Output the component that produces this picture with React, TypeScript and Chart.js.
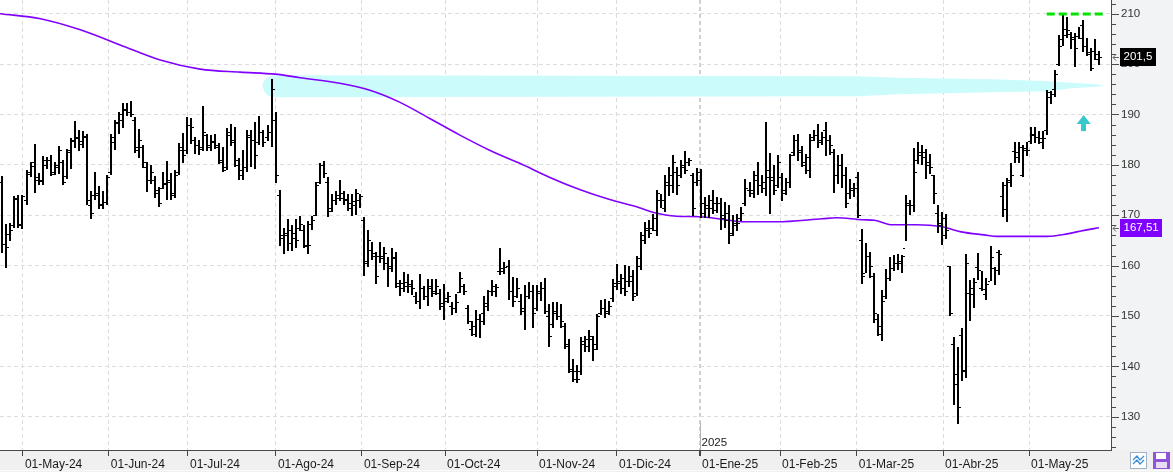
import React, { useEffect, useRef } from "react";
import { Chart, registerables } from "chart.js";
Chart.register(...registerables);

// ---- Daily OHLC (one entry per trading day, Apr-2024 .. May-2025) ----
const highs = [
  177.7,168.3,168.5,173.8,174.1,174.1,178.9,180.6,184.2,178.4,
  181.7,181.6,181.9,180.6,183.8,180.9,183.2,185.4,188.7,186.9,
  186.7,186.2,174.9,178.6,175.9,174.8,177.9,186.2,188.9,190.4,
  192.2,192.2,192.6,189.5,187.2,183.9,180.6,180.0,177.8,175.6,
  178.6,180.7,178.4,178.9,184.4,186.3,189.5,189.2,185.6,185.0,
  191.6,186.2,185.9,186.1,184.4,183.6,187.4,188.2,187.5,181.4,
  182.9,187.0,187.0,188.5,189.7,187.0,187.9,197.0,190.5,175.1,
  167.5,169.2,168.0,169.3,169.8,168.0,168.9,169.8,176.5,180.4,
  180.7,177.5,174.3,174.9,176.9,174.9,174.2,174.3,175.3,174.3,
  169.6,167.0,164.7,162.7,164.7,163.7,161.8,163.4,162.8,157.1,
  158.7,158.4,157.1,154.7,158.4,155.9,157.4,157.4,157.4,155.4,
  156.4,154.7,152.7,154.4,158.7,156.4,152.1,149.1,151.1,150.4,
  153.9,155.1,157.1,156.4,163.4,160.7,161.2,157.7,157.5,154.4,
  156.1,156.7,156.1,156.1,156.7,157.6,152.4,152.7,152.7,152.4,
  148.6,145.5,141.5,140.2,145.8,146.0,147.3,146.1,150.3,153.2,
  153.4,153.0,157.4,160.4,158.4,160.2,160.0,159.2,162.0,166.7,
  168.7,169.0,170.3,175.1,174.3,177.9,179.5,182.0,179.6,180.9,
  182.7,181.4,178.3,179.3,179.1,173.6,174.0,175.0,173.6,173.5,
  172.6,172.0,170.0,170.3,171.6,177.1,176.6,178.8,180.6,177.9,
  188.5,182.4,179.9,181.9,178.3,177.3,182.1,185.9,186.1,183.7,
  182.2,186.1,186.9,188.2,186.5,188.5,185.9,183.2,181.9,182.2,
  179.6,177.1,176.3,178.6,167.3,164.4,162.7,158.5,150.4,155.1,
  159.4,161.7,162.2,162.4,162.2,174.1,173.0,183.4,184.6,183.9,
  183.2,182.2,177.9,172.1,170.6,170.3,160.0,145.8,143.9,147.6,
  162.4,157.2,157.6,162.6,159.0,157.6,163.8,159.7,163.0,176.6,
  177.3,180.3,184.6,184.6,183.9,184.6,187.5,187.5,186.7,186.7,
  194.8,194.6,198.8,205.8,209.7,209.4,206.3,206.1,207.4,208.8,
  205.1,203.1,204.9,202.6,
];
const lows = [
  162.7,159.7,165.0,167.6,167.6,167.5,172.3,177.7,174.6,176.1,
  176.1,179.3,177.9,178.1,178.4,176.1,177.3,179.3,183.6,182.9,
  183.6,172.3,169.4,173.3,171.5,171.5,172.2,178.1,183.2,186.4,
  187.5,189.9,189.7,182.6,181.6,179.6,174.9,176.3,173.6,171.8,
  175.5,173.3,173.3,173.6,178.1,180.6,182.4,184.4,182.4,182.2,
  182.9,182.9,183.0,183.4,180.4,178.8,179.1,183.9,179.7,177.1,
  177.1,178.8,179.7,179.4,184.2,183.7,185.0,183.8,176.6,164.0,
  162.5,163.0,163.0,163.7,167.0,163.6,162.5,167.3,170.0,176.3,
  177.6,169.8,170.8,172.3,173.0,172.3,171.0,170.1,170.3,171.6,
  158.1,160.0,161.4,156.5,160.8,159.4,155.9,159.0,155.7,154.1,
  155.0,154.7,154.3,152.5,151.6,153.4,152.1,153.9,154.4,151.4,
  149.4,152.7,150.4,150.8,154.7,154.3,148.6,146.3,146.1,145.9,
  148.4,151.2,154.1,153.9,158.4,158.5,153.4,151.9,153.7,150.4,
  147.4,153.6,147.8,151.1,153.1,150.6,144.1,147.8,149.4,147.9,
  143.7,138.8,137.0,136.9,138.5,143.1,143.1,141.3,143.5,150.3,
  149.8,150.3,153.0,155.4,154.5,154.1,155.9,153.2,154.1,159.4,
  164.4,165.7,167.0,166.0,171.6,170.8,174.0,174.6,174.3,177.6,
  178.3,179.9,170.0,176.0,169.6,169.6,169.6,170.4,170.6,167.3,
  167.6,164.5,166.0,167.0,169.0,172.0,173.8,173.6,174.3,174.6,
  174.0,170.4,174.3,175.6,173.1,174.3,175.6,181.9,181.0,179.7,
  178.3,177.6,184.9,183.6,184.2,181.9,182.2,174.6,176.3,175.7,
  171.6,173.5,173.8,169.6,156.6,158.7,157.7,148.9,146.3,145.3,
  153.5,157.1,159.2,159.4,158.7,165.0,170.3,170.8,180.4,180.2,
  177.3,178.3,172.5,166.7,164.2,165.5,150.1,132.5,128.7,137.2,
  137.8,149.2,151.8,157.4,155.2,153.3,157.1,156.3,158.3,169.8,
  168.8,175.8,180.6,180.6,177.8,181.9,184.4,184.6,184.4,183.4,
  186.2,192.2,193.7,199.8,203.8,205.4,203.1,199.7,205.1,202.5,
  201.8,198.8,201.0,200.1,
];
const opens = [
  176.5,164.3,166.2,168.0,173.5,168.2,173.0,178.2,180.5,177.5,
  177.0,180.0,181.0,178.6,179.5,180.5,177.8,182.5,185.0,185.5,
  184.8,185.5,172.0,174.0,174.0,172.3,172.6,178.5,184.5,188.3,
  189.0,191.0,190.5,189.0,183.0,183.5,179.5,177.0,177.0,174.5,
  175.5,176.3,177.0,174.5,178.5,183.0,183.0,188.0,185.0,184.0,
  183.5,186.0,184.0,184.5,183.5,180.5,179.5,186.0,184.5,181.0,
  178.0,179.5,185.5,185.0,184.5,186.5,185.5,186.5,189.0,174.0,
  165.5,166.0,164.5,165.5,167.5,167.0,164.0,168.2,170.0,176.5,
  180.0,176.5,171.5,173.0,174.0,173.5,173.0,171.5,172.0,173.0,
  169.0,160.5,163.0,162.0,162.0,161.5,160.5,160.0,161.8,156.0,
  156.5,156.0,156.3,154.0,153.0,155.5,154.0,155.5,155.0,154.5,
  152.0,153.5,152.0,151.5,154.8,156.0,151.5,147.5,146.5,149.5,
  149.0,152.0,155.0,155.0,159.0,159.0,160.0,155.0,154.0,153.0,
  151.5,154.0,155.0,151.5,154.5,155.5,150.0,148.5,150.5,150.0,
  148.0,144.0,139.5,139.0,139.0,144.5,145.5,145.5,144.5,150.5,
  151.5,151.0,153.5,156.0,156.5,155.5,157.0,157.0,154.5,160.0,
  165.0,167.5,167.5,167.0,173.0,171.5,176.5,176.0,178.5,178.0,
  180.0,180.5,178.0,176.5,178.5,172.5,172.0,171.5,171.0,172.5,
  170.0,170.5,166.5,168.0,169.5,172.5,175.0,174.5,177.0,176.0,
  175.5,179.0,177.0,176.0,177.5,175.0,176.5,182.5,185.0,183.0,
  180.0,179.0,185.5,186.0,185.0,187.0,185.0,182.5,178.0,180.0,
  178.0,174.5,175.5,177.5,165.0,158.5,162.0,158.0,149.5,146.5,
  154.0,157.5,159.5,160.5,160.5,163.5,172.0,172.0,181.0,182.0,
  182.5,180.5,178.0,170.5,168.5,169.5,160.0,144.5,138.5,146.3,
  139.0,154.5,154.4,159.8,155.6,154.3,157.0,159.6,162.7,173.8,
  176.0,176.5,182.7,181.5,178.0,183.0,184.8,186.0,185.5,184.5,
  187.0,193.5,195.0,200.0,205.0,207.0,206.0,205.0,205.5,207.8,
  203.5,202.0,202.5,202.0,
];
const closes = [
  164.3,163.6,167.0,173.2,168.0,173.8,178.5,179.8,177.0,176.8,
  181.0,181.0,178.2,180.0,183.0,176.5,182.9,184.8,185.3,184.2,
  185.8,173.0,170.5,174.5,172.0,172.6,177.5,185.5,188.5,190.0,
  190.8,190.5,190.0,183.5,185.0,180.5,177.0,178.6,175.0,172.5,
  176.2,176.5,174.0,178.0,183.5,182.0,188.0,187.5,184.0,183.2,
  186.5,183.5,184.8,184.0,181.0,179.0,186.5,185.0,180.0,179.0,
  179.5,186.0,185.0,182.0,186.5,184.5,186.5,195.0,178.0,166.0,
  166.5,167.0,166.5,165.0,168.2,163.8,164.0,169.0,176.0,180.0,
  178.3,170.8,173.0,173.5,174.5,173.2,172.5,172.8,174.5,173.8,
  161.0,165.0,162.5,158.0,162.0,162.5,159.5,161.5,156.5,155.5,
  156.8,156.0,155.5,153.0,155.5,154.0,156.0,154.5,156.0,152.5,
  153.0,154.0,151.5,152.8,157.5,155.0,149.0,148.0,149.5,150.5,
  152.5,155.0,156.0,155.8,159.5,159.8,155.0,153.0,155.5,151.0,
  154.0,155.0,150.5,155.0,155.5,151.0,146.0,151.0,150.0,149.0,
  144.5,139.0,137.5,137.5,145.0,144.0,146.0,143.5,150.0,151.5,
  150.5,152.0,156.5,157.0,157.5,155.0,158.0,154.0,161.5,166.0,
  167.0,166.5,169.5,174.5,173.0,176.0,178.0,180.5,176.0,179.5,
  179.0,181.0,171.5,177.0,170.5,171.5,173.0,172.5,172.5,169.5,
  169.0,166.0,168.5,168.5,170.5,175.5,175.0,178.0,176.0,176.5,
  177.5,177.5,175.0,180.5,174.5,176.5,182.0,185.0,182.5,180.5,
  181.5,185.0,186.0,184.5,185.5,185.0,184.0,178.0,180.0,178.0,
  172.5,175.0,175.5,170.0,158.0,162.0,160.0,150.5,148.0,153.0,
  157.5,159.5,160.5,161.0,162.0,172.5,172.0,178.5,182.5,181.5,
  180.0,179.5,174.5,168.0,166.0,167.0,150.5,136.5,132.0,139.3,
  160.5,155.5,156.7,159.2,155.4,156.4,161.8,159.2,162.4,171.2,
  177.0,178.0,182.5,183.5,183.3,182.9,186.2,185.5,185.3,185.3,
  194.4,194.0,198.1,203.6,205.8,206.8,205.4,203.2,205.2,203.5,
  202.4,199.2,201.1,201.5,
];

// ---- Moving average (read at sample bars) ----
const maIdx = [-0.6, 9.5, 19.4, 29.3, 39.3, 49.2, 59.2, 67.9, 74.1, 84, 91.5, 99, 106.4, 113.9, 121.3, 128.8, 136.3, 143.7, 151.2, 158.6, 161.9, 167.8, 173.6, 185.2, 192.7, 204.1, 207.6, 214.1, 217.1, 221.5, 227.5, 234, 238.7, 244.4, 247.7, 260.1, 265.1, 269.3, 273];
const maVals = [210.0, 209.0, 206.8, 203.8, 200.8, 199.0, 198.4, 198.0, 197.3, 196.2, 194.8, 192.4, 189.2, 185.9, 182.9, 180.3, 177.5, 175.1, 173.1, 171.5, 170.6, 169.8, 169.7, 168.7, 168.7, 169.3, 169.5, 169.1, 169.0, 168.1, 168.1, 167.7, 166.7, 166.1, 165.8, 165.8, 166.3, 167.0, 167.51];

// ---- Axis ticks ----
const monthLabels = ["01-May-24","01-Jun-24","01-Jul-24","01-Ago-24","01-Sep-24","01-Oct-24","01-Nov-24","01-Dic-24","01-Ene-25","01-Feb-25","01-Mar-25","01-Abr-25","01-May-25"];
const monthPos = [5.1, 26.5, 46.2, 68.1, 89.5, 110.2, 133.1, 153.0, 173.7, 193.6, 212.7, 234.2, 255.6];
const yearMarkIndex = 8;
const yearLabel = "2025";
const priceTicks = [130, 140, 150, 160, 170, 180, 190, 200, 210];

// ---- Annotations (value space) ----
const lastPrice = 201.5;
const lastPriceText = "201,5";
const maLast = 167.51;
const maLastText = "167,51";
const resistance = { level: 210, from: 260, to: 274.3 };
const arrowMark = { idx: 269.2, tip: 189.9, base: 188.1, end: 186.7 };
const bandTop: [number, number][] = [[64.7,195.7],[65.2,196.8],[66.2,197.5],[68,197.8],[213,197.6],[223,197.3],[247,197.0],[260.4,196.6],[266.2,196.3],[272.4,196.0],[274.5,195.7]];
const bandBottom: [number, number][] = [[274.5,195.7],[272.4,195.5],[266.2,195.2],[260.4,194.6],[247,194.4],[223,194.0],[213,193.6],[68,193.4],[66.2,193.7],[65.2,194.5],[64.7,195.7]];

const FONT = '"Liberation Sans", Arial, sans-serif';

const overlay = {
  id: "overlay",
  beforeDraw(chart: any) {
    const { ctx, chartArea: a, width, height } = chart;
    ctx.save();
    ctx.fillStyle = "#f0f0f0";
    ctx.fillRect(0, 0, width, height);
    ctx.fillStyle = "#f2f3f5";
    ctx.fillRect(a.right, 0, width - a.right, a.bottom);
    ctx.fillStyle = "#ffffff";
    ctx.fillRect(a.left, a.top, a.right - a.left, a.bottom - a.top);
    ctx.fillStyle = "#fcfcfc";
    ctx.fillRect(0, 470, width, 1);
    ctx.restore();
  },
  beforeDatasetsDraw(chart: any) {
    const { ctx } = chart;
    const X = (v: number) => chart.scales.x.getPixelForValue(v);
    const Y = (v: number) => chart.scales.y.getPixelForValue(v);
    ctx.save();
    ctx.fillStyle = "rgb(204,251,252)";
    ctx.beginPath();
    bandTop.forEach(([i, p], k) => (k === 0 ? ctx.moveTo(X(i), Y(p)) : ctx.lineTo(X(i), Y(p))));
    bandBottom.forEach(([i, p]) => ctx.lineTo(X(i), Y(p)));
    ctx.closePath();
    ctx.fill();
    ctx.restore();
  },
  afterDatasetsDraw(chart: any) {
    const { ctx } = chart;
    const X = (v: number) => chart.scales.x.getPixelForValue(v);
    const Y = (v: number) => chart.scales.y.getPixelForValue(v);
    ctx.save();
    // OHLC bars
    ctx.fillStyle = "#000";
    for (let i = 0; i < highs.length; i++) {
      const x = Math.round(X(i));
      const yh = Math.round(Y(highs[i]));
      const yl = Math.round(Y(lows[i]));
      ctx.fillRect(x - 1, yh, 2, Math.max(1, yl - yh + 1));
      ctx.fillRect(x - 3, Math.round(Y(opens[i])), 2, 1);
      ctx.fillRect(x + 1, Math.round(Y(closes[i])), 2, 1);
    }
    // resistance dashed line
    ctx.strokeStyle = "#00e400";
    ctx.lineWidth = 3;
    ctx.setLineDash([8, 4]);
    ctx.beginPath();
    const ry = Math.round(Y(resistance.level));
    ctx.moveTo(X(resistance.from), ry);
    ctx.lineTo(X(resistance.to), ry);
    ctx.stroke();
    ctx.setLineDash([]);
    // arrow
    const ax = X(arrowMark.idx);
    const yt = Y(arrowMark.tip), yb = Y(arrowMark.base), ye = Y(arrowMark.end);
    ctx.fillStyle = "#36c9cc";
    ctx.beginPath();
    ctx.moveTo(ax, yt);
    ctx.lineTo(ax + 7, yb);
    ctx.lineTo(ax - 7, yb);
    ctx.closePath();
    ctx.fill();
    ctx.fillRect(Math.round(ax - 2.5), yb, 5, ye - yb);
    ctx.restore();
  },
  afterDraw(chart: any) {
    const { ctx, chartArea: a } = chart;
    const X = (v: number) => chart.scales.x.getPixelForValue(v);
    const Y = (v: number) => chart.scales.y.getPixelForValue(v);
    ctx.save();
    // axis lines
    ctx.strokeStyle = "#4a4a4a";
    ctx.lineWidth = 1;
    ctx.beginPath();
    ctx.moveTo(a.right + 0.5, 0);
    ctx.lineTo(a.right + 0.5, a.bottom + 1);
    ctx.moveTo(0, a.bottom + 0.5);
    ctx.lineTo(a.right + 1, a.bottom + 0.5);
    ctx.stroke();
    // y ticks: major each 10, minor each 2
    ctx.beginPath();
    for (let v = 124; v <= 212; v += 2) {
      const y = Math.round(Y(v)) + 0.5;
      const len = v % 10 === 0 ? 7 : 4;
      ctx.moveTo(a.right + 1, y);
      ctx.lineTo(a.right + 1 + len, y);
    }
    ctx.stroke();
    // year mark
    const yx = Math.round(X(monthPos[yearMarkIndex])) + 0.5;
    ctx.strokeStyle = "#b4b4b4";
    ctx.beginPath();
    ctx.moveTo(yx, 423);
    ctx.lineTo(yx, a.bottom);
    ctx.stroke();
    ctx.fillStyle = "#1a1a1a";
    ctx.font = "11.5px " + FONT;
    ctx.textBaseline = "alphabetic";
    ctx.textAlign = "left";
    ctx.fillText(yearLabel, yx + 1, 446);
    // price tags
    const tag = (text: string, price: number, bg: string) => {
      const y = Y(price);
      ctx.font = "11.5px " + FONT;
      const w = Math.round(ctx.measureText(text).width + 7);
      const x0 = a.right + 9;
      ctx.fillStyle = bg;
      ctx.fillRect(x0, Math.round(y - 9), w, 18);
      ctx.fillStyle = "#fff";
      ctx.textBaseline = "middle";
      ctx.fillText(text, x0 + 3.5, y + 0.5);
      ctx.strokeStyle = "#666";
      ctx.lineWidth = 1;
      const yy = Math.round(y) + 0.5;
      ctx.beginPath();
      ctx.moveTo(a.right + 2, yy);
      ctx.lineTo(a.right + 8, yy);
      ctx.moveTo(a.right + 2, yy);
      ctx.lineTo(a.right + 5, yy - 3);
      ctx.moveTo(a.right + 2, yy);
      ctx.lineTo(a.right + 5, yy + 3);
      ctx.stroke();
    };
    tag(lastPriceText, lastPrice, "#000");
    tag(maLastText, maLast, "#8000ff");
    // bottom-right icons
    ctx.fillStyle = "#fff";
    ctx.fillRect(1130, 452, 17, 17);
    ctx.strokeStyle = "#9fb3c8";
    ctx.strokeRect(1130.5, 452.5, 16, 16);
    ctx.strokeStyle = "#3b8fd6";
    ctx.lineWidth = 1.3;
    ctx.beginPath();
    ctx.moveTo(1133, 460); ctx.lineTo(1137, 456); ctx.lineTo(1140, 460); ctx.lineTo(1144, 456);
    ctx.moveTo(1133, 464); ctx.lineTo(1137, 460); ctx.lineTo(1140, 464); ctx.lineTo(1144, 460);
    ctx.stroke();
    ctx.fillStyle = "#8f55d6";
    ctx.fillRect(1153, 452, 17, 17);
    ctx.fillStyle = "#fff";
    ctx.fillRect(1156, 453, 10, 6);
    ctx.fillStyle = "#e8dcf7";
    ctx.fillRect(1156, 462, 11, 6);
    ctx.restore();
  },
};

export default function App() {
  const ref = useRef<HTMLCanvasElement>(null);
  useEffect(() => {
    document.body.style.margin = "0";
    const canvas = ref.current!;
    const chart = new Chart(canvas, {
      type: "line",
      data: {
        datasets: [
          {
            label: "MA",
            data: maIdx.map((x, i) => ({ x, y: maVals[i] })),
            borderColor: "#8000ff",
            borderWidth: 1.6,
            pointRadius: 0,
            fill: false,
            cubicInterpolationMode: "monotone",
          } as any,
        ],
      },
      options: {
        responsive: false,
        animation: false,
        devicePixelRatio: 1,
        layout: { padding: 0 },
        plugins: { legend: { display: false }, tooltip: { enabled: false } },
        scales: {
          x: {
            type: "linear",
            min: -0.6,
            max: 276,
            afterBuildTicks: (s: any) => {
              s.ticks = monthPos.map((v) => ({ value: v }));
            },
            afterFit: (s: any) => {
              s.height = 22;
              s.paddingLeft = 0;
              s.paddingRight = 0;
              s.paddingTop = 0;
              s.paddingBottom = 0;
            },
            grid: {
              color: (c: any) => (c.index === yearMarkIndex ? "#cfcfcf" : "#dcdcdc"),
              lineWidth: (c: any) => (c.index === yearMarkIndex ? 2 : 1),
              tickLength: 6,
              tickColor: "#444",
              drawTicks: true,
            },
            border: { display: false, dash: [4, 3] },
            ticks: {
              autoSkip: false,
              maxRotation: 0,
              minRotation: 0,
              align: "start",
              labelOffset: 2,
              padding: 1,
              color: "#1a1a1a",
              font: { family: FONT, size: 12 },
              callback: (_v: any, i: number) => monthLabels[i],
            },
          },
          y: {
            position: "right",
            min: 123.4,
            max: 212.72,
            afterBuildTicks: (s: any) => {
              s.ticks = priceTicks.map((v) => ({ value: v }));
            },
            afterFit: (s: any) => {
              s.width = 62;
              s.paddingTop = 0;
              s.paddingBottom = 0;
              s.paddingLeft = 0;
              s.paddingRight = 0;
            },
            grid: { color: "#dcdcdc", drawTicks: false },
            border: { display: false, dash: [4, 3] },
            ticks: {
              padding: 10,
              color: "#333",
              font: { family: FONT, size: 11.5 },
              callback: (v: any) => String(v),
            },
          },
        },
      } as any,
      plugins: [overlay],
    });
    return () => chart.destroy();
  }, []);
  return (
    <div style={{ width: 1173, height: 472 }}>
      <canvas ref={ref} width={1173} height={472} style={{ display: "block" }} />
    </div>
  );
}
